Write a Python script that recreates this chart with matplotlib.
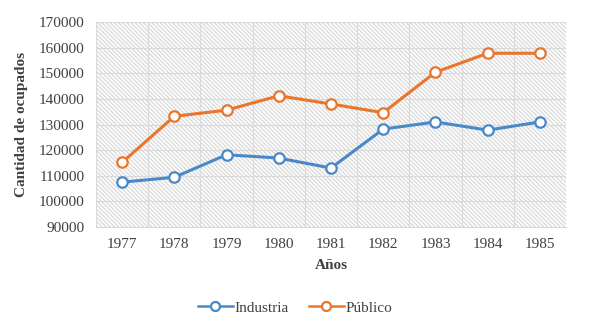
import matplotlib
matplotlib.use("Agg")
import matplotlib.pyplot as plt
import numpy as np

years = ["1977", "1978", "1979", "1980", "1981", "1982", "1983", "1984", "1985"]
industria = [107500, 109400, 118200, 116900, 113000, 128200, 131000, 127800, 131000]
publico = [115200, 133200, 135600, 141200, 138000, 134600, 150400, 157800, 157800]

plt.rcParams['font.family'] = ['Liberation Serif', 'DejaVu Serif']
plt.rcParams['hatch.color'] = '#d8d8d8'
plt.rcParams['hatch.linewidth'] = 0.9

fig = plt.figure(figsize=(5.9, 3.19), dpi=100)
ax = fig.add_axes([96/590, 1-227/319, (566-96)/590, (227-22)/319])

x = np.arange(len(years))
ax.set_xlim(-0.5, len(years)-0.5)
ax.set_ylim(90000, 170000)

# hatched background
ax.add_patch(plt.Rectangle((0, 0), 1, 1, transform=ax.transAxes, facecolor='white',
                           edgecolor='#d8d8d8', hatch='\\' * 8, linewidth=0, zorder=0))

ax.set_yticks(np.arange(90000, 170001, 10000))
ax.set_xticks(x)
ax.set_xticklabels(years)
for v in np.arange(100000, 170001, 10000):
    ax.axhline(v, color='#dadada', lw=0.8, zorder=1)
for b in np.arange(-0.5, len(years)+0.5, 1):
    ax.axvline(b, color='#dadada', lw=0.8, zorder=1)

blue = '#4a89c8'
orange = '#e9762b'
ax.plot(x, industria, color=blue, lw=2.2, marker='o', ms=7.5, mfc='white', mec=blue, mew=1.6,
        label='Industria', zorder=3)
ax.plot(x, publico, color=orange, lw=2.2, marker='o', ms=7.5, mfc='white', mec=orange, mew=1.6,
        label='Público', zorder=3)

for s in ax.spines.values():
    s.set_visible(False)
ax.spines['bottom'].set_visible(True)
ax.spines['bottom'].set_color('#d9d9d9')
ax.tick_params(length=0, labelsize=11, colors='#404040', pad=8)
ax.set_xlabel('Años', fontsize=11, fontweight='bold', color='#404040', labelpad=6)
ax.set_ylabel('Cantidad de ocupados', fontsize=11, fontweight='bold', color='#404040', labelpad=8)

leg = fig.legend(loc='lower center', bbox_to_anchor=(0.5, -0.03), ncol=2, frameon=False,
                 fontsize=11, handlelength=2.3, columnspacing=1.3, handletextpad=0.1)
for t in leg.get_texts():
    t.set_color('#404040')
for h in leg.legend_handles:
    h.set_linewidth(1.8)
    h.set_markersize(6.5)

fig.savefig('out.png', dpi=100)
